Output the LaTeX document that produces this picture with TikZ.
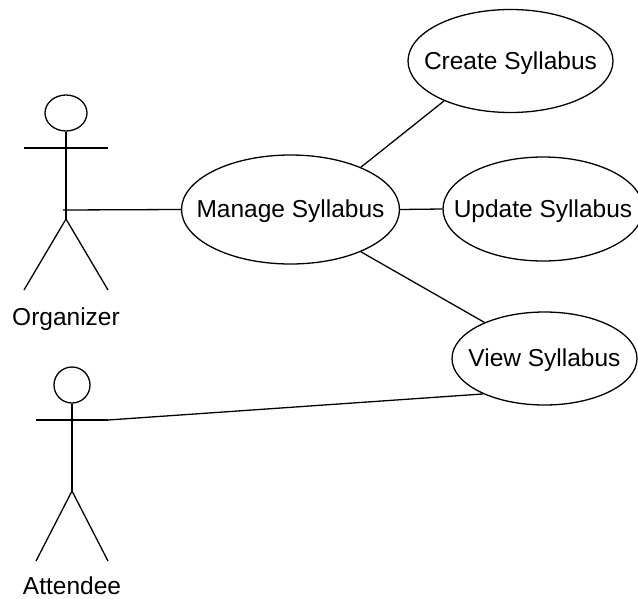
\documentclass[tikz,border=0pt]{standalone}
\usepackage{fontspec}
\setmainfont{Liberation Sans}
\usetikzlibrary{shapes.geometric}
\newcommand{\uclabel}[1]{\makebox[0pt]{\raisebox{-8pt}[0pt][0pt]{#1}}}
\tikzset{
  lbl/.style={font=\fontsize{24.5}{28}\selectfont,text=black},
  uc/.style={draw=black,line width=1.3pt,ellipse,inner sep=0pt,lbl},
  ln/.style={draw=black,line width=1.3pt},
  headshape/.style={draw=black,line width=1.3pt,ellipse,inner sep=0pt}
}
\begin{document}
\begin{tikzpicture}[x=1pt,y=-1pt]
\useasboundingbox (0,0) rectangle (638,598);
\fill[white] (0,0) rectangle (638,598);
\begin{scope}
\clip (0,0) rectangle (638,598);
\node[uc,minimum width=218pt,minimum height=109pt] (manage) at (290.5,209.5) {\uclabel{Manage Syllabus}};
\node[uc,minimum width=205pt,minimum height=103pt] (create) at (510.5,61) {\uclabel{Create Syllabus}};
\node[uc,minimum width=200pt,minimum height=104pt] (update) at (543,209) {\uclabel{Update Syllabus}};
\node[uc,minimum width=185pt,minimum height=93pt] (view) at (544.5,358.5) {\uclabel{View Syllabus}};
\end{scope}
% Organizer
\node[headshape,minimum width=42pt,minimum height=36pt] (ohead) at (66,113) {};
\coordinate (obody) at (66,219);
\coordinate (ohip) at (63,210);
\coordinate (oarmL) at (24,148);
\coordinate (oarmR) at (108,148);
\coordinate (olegL) at (24,290);
\coordinate (olegR) at (108,290);
\draw[ln] (ohead.south) -- (obody);
\draw[ln] (oarmL) -- (oarmR);
\draw[ln] (olegL) -- (obody) -- (olegR);
\node[lbl,anchor=base,inner sep=0pt] (olabel) at (66,325) {Organizer};
% Attendee
\node[headshape,minimum width=36pt,minimum height=36pt] (ahead) at (72,385) {};
\coordinate (abody) at (72,491);
\coordinate (aarmL) at (36,420);
\coordinate (aarmR) at (108,420);
\coordinate (alegL) at (36,561);
\coordinate (alegR) at (108,561);
\draw[ln] (ahead.south) -- (abody);
\draw[ln] (aarmL) -- (aarmR);
\draw[ln] (alegL) -- (abody) -- (alegR);
\node[lbl,anchor=base,inner sep=0pt] (alabel) at (72,594.5) {Attendee};
% connectors
\draw[ln] (ohip) -- (manage.west);
\draw[ln] (manage.31) -- (create.211);
\draw[ln] (manage.east) -- (update.west);
\draw[ln] (manage.-31) -- (view.149);
\draw[ln] (aarmR) -- (view.210.5);
\end{tikzpicture}
\end{document}
